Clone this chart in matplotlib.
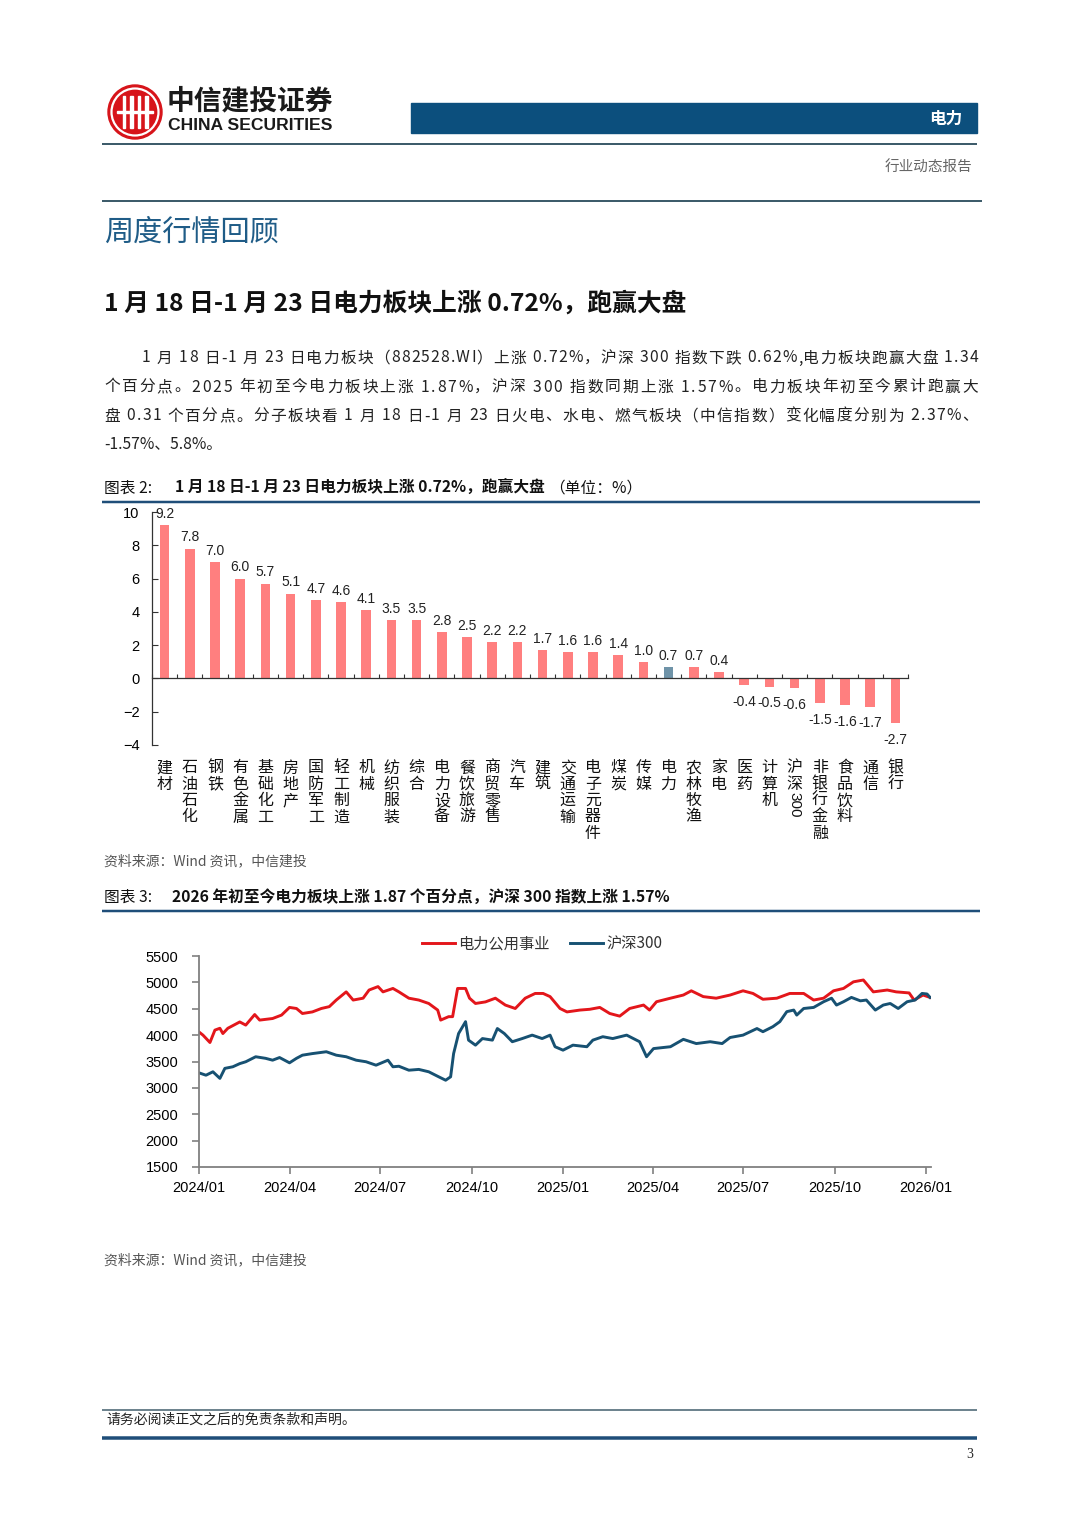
import matplotlib
matplotlib.use('Agg')
import matplotlib.pyplot as plt
import matplotlib.dates as mdates
import matplotlib.transforms as mtransforms
from matplotlib.patches import Circle, Rectangle
import pandas as pd

plt.rcParams['font.family'] = ['Noto Sans CJK SC', 'DejaVu Sans']
NUM_FONT = ['Liberation Sans', 'Noto Sans CJK SC']

W, H = 1080, 1527

# ---- data: weekly change by industry (%) ----
industries = ['建材', '石油石化', '钢铁', '有色金属', '基础化工', '房地产', '国防军工', '轻工制造',
              '机械', '纺织服装', '综合', '电力设备', '餐饮旅游', '商贸零售', '汽车', '建筑',
              '交通运输', '电子元器件', '煤炭', '传媒', '电力', '农林牧渔', '家电', '医药',
              '计算机', '沪深300', '非银行金融', '食品饮料', '通信', '银行']
weekly_chg = [9.2, 7.8, 7.0, 6.0, 5.7, 5.1, 4.7, 4.6, 4.1, 3.5, 3.5, 2.8, 2.5, 2.2, 2.2, 1.7,
              1.6, 1.6, 1.4, 1.0, 0.7, 0.7, 0.4, -0.4, -0.5, -0.6, -1.5, -1.6, -1.7, -2.7]
highlight = '电力'

# ---- data: index levels ----
util_dates = ['2024-01-01', '2024-01-05', '2024-01-12', '2024-01-17', '2024-01-22', '2024-01-25',
              '2024-01-30', '2024-02-11', '2024-02-17', '2024-02-26', '2024-03-02', '2024-03-15',
              '2024-03-24', '2024-04-01', '2024-04-08', '2024-04-14', '2024-04-24', '2024-05-03',
              '2024-05-11', '2024-05-18', '2024-05-28', '2024-06-04', '2024-06-14', '2024-06-20',
              '2024-06-29', '2024-07-04', '2024-07-14', '2024-07-20', '2024-07-30', '2024-08-09',
              '2024-08-19', '2024-08-28', '2024-08-31', '2024-09-08', '2024-09-12', '2024-09-17',
              '2024-09-25', '2024-09-29', '2024-10-05', '2024-10-15', '2024-10-25', '2024-11-04',
              '2024-11-14', '2024-11-24', '2024-12-04', '2024-12-12', '2024-12-19', '2024-12-29',
              '2025-01-05', '2025-01-18', '2025-01-28', '2025-02-07', '2025-02-17', '2025-02-27',
              '2025-03-09', '2025-03-23', '2025-03-29', '2025-04-05', '2025-04-19', '2025-05-02',
              '2025-05-10', '2025-05-22', '2025-06-04', '2025-06-18', '2025-07-01', '2025-07-11',
              '2025-07-21', '2025-08-04', '2025-08-17', '2025-08-31', '2025-09-10', '2025-09-20',
              '2025-09-30', '2025-10-10', '2025-10-20', '2025-10-30', '2025-11-09', '2025-11-23',
              '2025-12-02', '2025-12-15', '2025-12-20', '2025-12-29', '2026-01-05']
util_vals = [4060, 4000, 3860, 4095, 4130, 4030, 4130, 4250, 4190, 4390, 4285, 4315,
             4380, 4525, 4505, 4410, 4440, 4505, 4540, 4665, 4820, 4665, 4700, 4855,
             4920, 4820, 4885, 4820, 4700, 4665, 4600, 4475, 4285, 4350, 4350, 4885,
             4885, 4700, 4600, 4630, 4700, 4570, 4505, 4700, 4790, 4790, 4730, 4505,
             4440, 4475, 4490, 4525, 4410, 4360, 4505, 4570, 4475, 4633, 4700, 4760,
             4840, 4730, 4700, 4760, 4840, 4790, 4680, 4700, 4790, 4790, 4665, 4700,
             4840, 4885, 5010, 5045, 4820, 4855, 4820, 4800, 4665, 4760, 4715]

hs300_dates = ['2024-01-01', '2024-01-08', '2024-01-15', '2024-01-22', '2024-01-27', '2024-02-04',
               '2024-02-11', '2024-02-17', '2024-02-27', '2024-03-08', '2024-03-15', '2024-03-22',
               '2024-04-01', '2024-04-08', '2024-04-14', '2024-04-24', '2024-05-08', '2024-05-18',
               '2024-05-28', '2024-06-07', '2024-06-17', '2024-06-27', '2024-07-09', '2024-07-14',
               '2024-07-20', '2024-07-30', '2024-08-09', '2024-08-19', '2024-08-29', '2024-09-05',
               '2024-09-10', '2024-09-13', '2024-09-18', '2024-09-25', '2024-09-28', '2024-10-05',
               '2024-10-12', '2024-10-22', '2024-10-27', '2024-11-03', '2024-11-11', '2024-11-21',
               '2024-12-01', '2024-12-11', '2024-12-19', '2024-12-24', '2025-01-01', '2025-01-11',
               '2025-01-25', '2025-01-31', '2025-02-10', '2025-02-20', '2025-03-06', '2025-03-19',
               '2025-03-26', '2025-04-02', '2025-04-19', '2025-05-02', '2025-05-15', '2025-05-29',
               '2025-06-10', '2025-06-18', '2025-07-01', '2025-07-15', '2025-07-21', '2025-07-31',
               '2025-08-07', '2025-08-14', '2025-08-21', '2025-08-24', '2025-08-31', '2025-09-10',
               '2025-09-20', '2025-09-28', '2025-10-03', '2025-10-10', '2025-10-18', '2025-10-27',
               '2025-11-02', '2025-11-11', '2025-11-19', '2025-11-26', '2025-12-04', '2025-12-13',
               '2025-12-21', '2025-12-28', '2026-01-02', '2026-01-05']
hs300_vals = [3285, 3240, 3305, 3180, 3370, 3400, 3460, 3495, 3590, 3560, 3525, 3575,
              3475, 3560, 3620, 3650, 3685, 3620, 3590, 3525, 3495, 3430, 3525, 3400,
              3410, 3335, 3350, 3305, 3210, 3145, 3210, 3650, 4030, 4255, 3905, 3810,
              3935, 3905, 4125, 4030, 3875, 3935, 4000, 3935, 4000, 3780, 3715, 3810,
              3780, 3905, 3970, 3935, 4000, 3875, 3590, 3745, 3780, 3920, 3840, 3875,
              3840, 3955, 4000, 4125, 4065, 4160, 4255, 4445, 4475, 4380, 4505, 4525,
              4633, 4700, 4570, 4633, 4715, 4650, 4665, 4475, 4570, 4600, 4505, 4633,
              4665, 4790, 4780, 4715]

series_names = ['电力公用事业', '沪深300']

paragraph = [
    '1 月 18 日-1 月 23 日电力板块（882528.WI）上涨 0.72%，沪深 300 指数下跌 0.62%,电力板块跑赢大盘 1.34',
    '个百分点。2025 年初至今电力板块上涨 1.87%，沪深 300 指数同期上涨 1.57%。电力板块年初至今累计跑赢大',
    '盘 0.31 个百分点。分子板块看 1 月 18 日-1 月 23 日火电、水电、燃气板块（中信指数）变化幅度分别为 2.37%、',
    '-1.57%、5.8%。',
]

fig = plt.figure(figsize=(W / 100, H / 100), dpi=100)
renderer = fig.canvas.get_renderer()

# page layer in pixel coordinates
page = fig.add_axes([0, 0, 1, 1])
page.set_xlim(0, W)
page.set_ylim(H, 0)
page.axis('off')


def hline(y, x0, x1, color, lw_px):
    page.plot([x0, x1], [y, y], color=color, lw=lw_px * 0.72, solid_capstyle='butt')


def justified(x0, x1, y, s, **kw):
    # spread the characters so the line fills x0..x1, like a justified paragraph
    widths = []
    for ch in s:
        if ch == ' ':
            widths.append(kw['fontsize'] * 0.35)
            continue
        t = page.text(0, 0, ch, **kw)
        widths.append(t.get_window_extent(renderer).width)
        t.remove()
    gap = (x1 - x0 - sum(widths)) / (len(s) - 1)
    x = x0
    for ch, w in zip(s, widths):
        if ch != ' ':
            page.text(x, y, ch, ha='left', va='center', **kw)
        x += w + gap


# logo
page.add_patch(Circle((135, 112), 27, color='#D7141A'))
page.add_patch(Circle((135, 112), 23.5, fill=False, ec='white', lw=1.6))
for bx in [124, 131.5, 139, 146.5]:
    page.add_patch(Rectangle((bx - 1.2, 96), 2.4, 32, color='white'))
page.add_patch(Rectangle((117, 111), 36, 2.2, color='white'))
page.text(167, 101, '中信建投证券', fontsize=20, fontweight='bold', color='#1a1a1a',
          ha='left', va='center')
page.text(168, 125.5, 'CHINA SECURITIES', fontsize=12.6, fontweight='bold', color='#1a1a1a',
          ha='left', va='center', family=['Liberation Sans', 'DejaVu Sans'])

# header band
page.add_patch(Rectangle((411, 103), 566, 30, color='#0C4F7D'))
page.text(962, 118.5, '电力', fontsize=12, fontweight='bold', color='white', ha='right', va='center')
hline(143.5, 102, 977, '#3E5C6B', 2)
page.text(972, 168, '行业动态报告', fontsize=10.5, color='#666666', ha='right', va='center')
hline(200.5, 102, 982, '#3E5C6B', 2)

page.text(104, 233, '周度行情回顾', fontsize=21, color='#1F5C87', ha='left', va='center')
page.text(104, 303, '1 月 18 日-1 月 23 日电力板块上涨 0.72%，跑赢大盘', fontsize=17.8,
          fontweight='bold', color='#111111', ha='left', va='center')

for i, line in enumerate(paragraph):
    x0 = 142 if i == 0 else 104
    if i < len(paragraph) - 1:
        justified(x0, 978, 358 + i * 29, line, fontsize=11.3, color='#222222')
    else:
        page.text(x0, 358 + i * 29, line, fontsize=11.3, color='#222222', ha='left', va='center')

# captions and source notes
page.text(104, 488, '图表 2:', fontsize=11.3, color='#111111', ha='left', va='center')
page.text(175, 488, '1 月 18 日-1 月 23 日电力板块上涨 0.72%，跑赢大盘', fontsize=11.3,
          fontweight='bold', color='#111111', ha='left', va='center')
page.text(549, 488, '（单位：%）', fontsize=11.3, color='#111111', ha='left', va='center')
hline(502, 102, 980, '#1F4E79', 2.5)
page.text(104, 861, '资料来源：Wind 资讯，中信建投', fontsize=10, style='italic', color='#555555',
          ha='left', va='center')
page.text(104, 897, '图表 3:', fontsize=11.3, color='#111111', ha='left', va='center')
page.text(172, 897, '2026 年初至今电力板块上涨 1.87 个百分点，沪深 300 指数上涨 1.57%',
          fontsize=11.3, fontweight='bold', color='#111111', ha='left', va='center')
hline(911, 102, 980, '#1F4E79', 2.5)
page.text(104, 1260, '资料来源：Wind 资讯，中信建投', fontsize=10, style='italic', color='#555555',
          ha='left', va='center')

# footer
hline(1410, 102, 977, '#3E5C6B', 1.5)
page.text(106, 1420, '请务必阅读正文之后的免责条款和声明。', fontsize=10, color='#222222',
          ha='left', va='center')
hline(1438, 102, 977, '#1F4E79', 3.5)
page.text(973, 1455, '3', fontsize=10, color='#222222', ha='right', va='center',
          family=['Liberation Serif', 'DejaVu Serif'])

# ---- bar chart ----
ax1 = fig.add_axes([152 / W, 1 - 745 / H, 756 / W, 233 / H])
x = list(range(len(industries)))
colors = ['#6F93A8' if n == highlight else '#FF7F7F' for n in industries]
bars = ax1.bar(x, weekly_chg, width=0.38, color=colors, zorder=2)
ax1.set_xlim(-0.5, len(industries) - 0.5)
ax1.set_ylim(-4, 10)
ax1.set_yticks(range(-4, 11, 2))
ax1.spines['top'].set_visible(False)
ax1.spines['right'].set_visible(False)
ax1.spines['bottom'].set_position(('data', 0))
for s in ['left', 'bottom']:
    ax1.spines[s].set_color('#333333')
    ax1.spines[s].set_linewidth(0.9)
ax1.set_xticks([i + 0.5 for i in range(-1, len(industries))])
ax1.tick_params(axis='x', direction='in', length=3, labelbottom=False, color='#333333')
ax1.tick_params(axis='y', direction='in', length=4, pad=9, color='#333333')
for lab in ax1.get_yticklabels():
    lab.set_family(NUM_FONT)
    lab.set_fontsize(10.5)
ax1.patch.set_alpha(0)

for b, v in zip(bars, weekly_chg):
    if v >= 0:
        ax1.annotate(f'{v:.1f}', (b.get_x() + b.get_width() / 2, v), xytext=(0, 3),
                     textcoords='offset points', ha='center', va='bottom', fontsize=10,
                     family=NUM_FONT, color='#222222')
    else:
        ax1.annotate(f'{v:.1f}', (b.get_x() + b.get_width() / 2, v), xytext=(0, -7),
                     textcoords='offset points', ha='center', va='top', fontsize=10,
                     family=NUM_FONT, color='#222222')

trans = mtransforms.blended_transform_factory(ax1.transData, ax1.transAxes)
for i, name in enumerate(industries):
    cjk = ''.join(ch for ch in name if not ch.isdigit())
    digits = ''.join(ch for ch in name if ch.isdigit())
    ax1.text(i, -0.062, '\n'.join(cjk), transform=trans, ha='center', va='top',
             fontsize=11.5, linespacing=0.95, color='#111111')
    if digits:
        # digits run down the column sideways, as in the original
        ax1.text(i, -0.062 - len(cjk) * 0.0705, digits, transform=trans, ha='center', va='top',
                 rotation=270, fontsize=11, color='#111111', family=NUM_FONT)

# ---- line chart ----
ax2 = fig.add_axes([199 / W, 1 - 1167 / H, 732 / W, 211 / H])
ax2.plot(pd.to_datetime(util_dates), util_vals, color='#E3161B', lw=2.1, label=series_names[0])
ax2.plot(pd.to_datetime(hs300_dates), hs300_vals, color='#175172', lw=2.1, label=series_names[1])
ax2.set_xlim(pd.Timestamp('2024-01-01'), pd.Timestamp('2026-01-06'))
ax2.set_ylim(1500, 5500)
ax2.set_yticks(range(1500, 5501, 500))
ax2.xaxis.set_major_locator(mdates.MonthLocator(bymonth=[1, 4, 7, 10]))
ax2.xaxis.set_major_formatter(mdates.DateFormatter('%Y/%m'))
ax2.spines['top'].set_visible(False)
ax2.spines['right'].set_visible(False)
for s in ['left', 'bottom']:
    ax2.spines[s].set_color('#808080')
    ax2.spines[s].set_linewidth(1.3)
ax2.tick_params(axis='both', direction='out', length=5, color='#808080', width=1.2)
ax2.tick_params(axis='y', pad=10)
ax2.tick_params(axis='x', pad=5)
for lab in ax2.get_xticklabels() + ax2.get_yticklabels():
    lab.set_family(NUM_FONT)
    lab.set_fontsize(10.5)
ax2.patch.set_alpha(0)

fig.legend(loc='center', bbox_to_anchor=(542 / W, 1 - 944 / H), ncol=2, frameon=False,
           fontsize=11, handlelength=2.2, handletextpad=0.2, columnspacing=1.3,
           labelcolor='#333333')

fig.savefig('out.png', dpi=100)
